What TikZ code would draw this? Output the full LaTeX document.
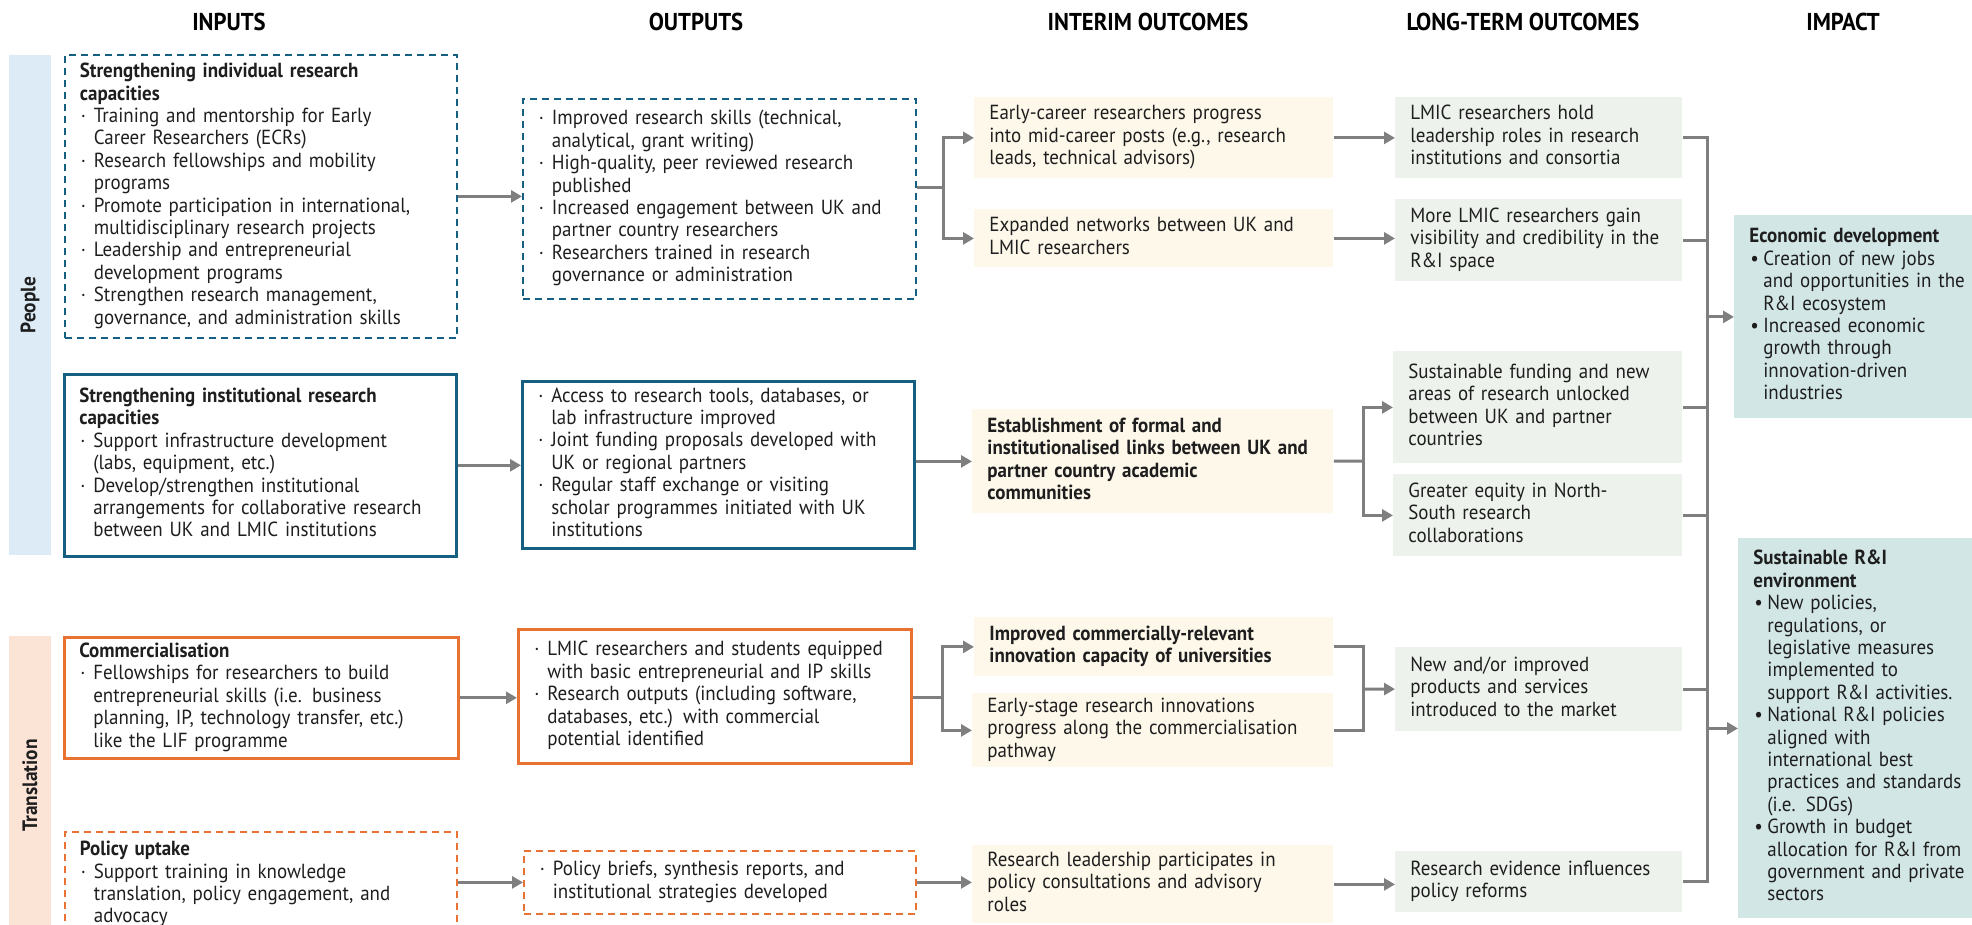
\documentclass[tikz,border=0pt]{standalone}
\usepackage{fontspec}
\setmainfont{PT Sans}[FakeStretch=0.93]
\usetikzlibrary{arrows.meta}

\definecolor{tocblue}{HTML}{156082}
\definecolor{tocorange}{HTML}{E97132}
\definecolor{peopleband}{HTML}{DDEBF7}
\definecolor{transband}{HTML}{FBE3D6}
\definecolor{interimfill}{HTML}{FEF8EB}
\definecolor{longfill}{HTML}{EDF2EC}
\definecolor{impactfill}{HTML}{D2E6E6}
\definecolor{arrowgrey}{HTML}{7F7F7F}
\definecolor{textdark}{HTML}{1E1E1E}

% lines of a box, bullets and hanging indent
\newcommand{\lns}[1]{\noindent\begin{tabular}{@{}l@{}}#1\end{tabular}}
\newcommand{\sqb}{\hspace*{0.5pt}\makebox[6.5pt][l]{·}}
\newcommand{\rdb}{\hspace*{0.5pt}\makebox[6.5pt][l]{•}}
\newcommand{\nxl}{\hspace*{7pt}}

\begin{document}
\begin{tikzpicture}[x=0.5pt,y=-0.5pt,
  base/.style={anchor=north west, align=left, inner xsep=7.5pt, inner ysep=0pt,
    text=textdark, font={\fontsize{10.2}{11.2}\selectfont}},
  strong/.style={font={\fontsize{10.2}{11.2}\selectfont\bfseries}},
  dashblue/.style={base, draw=tocblue, line width=0.9pt, dash pattern=on 3.5pt off 2.5pt},
  lineblue/.style={base, draw=tocblue, line width=1.3pt},
  lineorange/.style={base, draw=tocorange, line width=1.3pt},
  dashorange/.style={base, draw=tocorange, line width=0.9pt, dash pattern=on 3.5pt off 2.5pt},
  interim/.style={base, fill=interimfill},
  longterm/.style={base, fill=longfill},
  impact/.style={base, fill=impactfill},
  head/.style={font={\fontsize{12.2}{14}\selectfont\bfseries}, text=black},
  band/.style={rotate=90, inner sep=0pt, minimum height=21pt, text=textdark,
    font={\fontsize{10.4}{12}\selectfont\bfseries}},
  flow/.style={draw=arrowgrey, line width=1.5pt, -{Triangle[length=5.5pt,width=6pt]}},
  link/.style={draw=arrowgrey, line width=1.5pt}
]
\clip (0,0) rectangle (1972,925);

% Column headers
\node[head] (hin) at (229,22) {INPUTS};
\node[head] (hout) at (696,22) {OUTPUTS};
\node[head] (hint) at (1148,22) {INTERIM OUTCOMES};
\node[head] (hlong) at (1523,22) {LONG-TERM OUTCOMES};
\node[head] (himp) at (1843,22) {IMPACT};

% Side bands
\node[band, fill=peopleband, minimum width=250pt] (people) at (30,305) {People};
\node[band, fill=transband, minimum width=149.5pt] (transl) at (30,785.5) {Translation};

% Inputs
\node[dashblue, text width=181pt, minimum height=141.5pt] (in1) at (64,54) {\lns{%
  \textbf{Strengthening individual research}\\
  \textbf{capacities}\\
  \sqb Training and mentorship for Early\\
  \nxl Career Researchers (ECRs)\\
  \sqb Research fellowships and mobility\\
  \nxl programs\\
  \sqb Promote participation in international,\\
  \nxl multidisciplinary research projects\\
  \sqb Leadership and entrepreneurial\\
  \nxl development programs\\
  \sqb Strengthen research management,\\
  \nxl governance, and administration skills}};
\node[lineblue, text width=181pt, minimum height=91pt] (in2) at (63,373) {\lns{%
  \textbf{Strengthening institutional research}\\
  \textbf{capacities}\\
  \sqb Support infrastructure development\\
  \nxl (labs, equipment, etc.)\\
  \sqb Develop/strengthen institutional\\
  \nxl arrangements for collaborative research\\
  \nxl between UK and LMIC institutions}};
\node[lineorange, text width=182pt, minimum height=60.5pt] (in3) at (63,636) {\lns{%
  \textbf{Commercialisation}\\
  \sqb Fellowships for researchers to build\\
  \nxl entrepreneurial skills (i.e. business\\
  \nxl planning, IP, technology transfer, etc.)\\
  \nxl like the LIF programme}};
\node[dashorange, text width=181pt, minimum height=53pt] (in4) at (64,831) {\lns{%
  \textbf{Policy uptake}\\
  \sqb Support training in knowledge\\
  \nxl translation, policy engagement, and\\
  \nxl advocacy}};

% Outputs
\node[dashblue, text width=181.5pt, minimum height=100pt] (out1) at (522,98) {\lns{%
  \sqb Improved research skills (technical,\\
  \nxl analytical, grant writing)\\
  \sqb High-quality, peer reviewed research\\
  \nxl published\\
  \sqb Increased engagement between UK and\\
  \nxl partner country researchers\\
  \sqb Researchers trained in research\\
  \nxl governance or administration}};
\node[lineblue, text width=181pt, minimum height=83.5pt] (out2) at (521,380) {\lns{%
  \sqb Access to research tools, databases, or\\
  \nxl lab infrastructure improved\\
  \sqb Joint funding proposals developed with\\
  \nxl UK or regional partners\\
  \sqb Regular staff exchange or visiting\\
  \nxl scholar programmes initiated with UK\\
  \nxl institutions}};
\node[lineorange, text width=181.5pt, minimum height=67pt] (out3) at (517,628) {\lns{%
  \sqb LMIC researchers and students equipped\\
  \nxl with basic entrepreneurial and IP skills\\
  \sqb Research outputs (including software,\\
  \nxl databases, etc.) with commercial\\
  \nxl potential identified}};
\node[dashorange, text width=181pt, minimum height=31.5pt] (out4) at (523,850) {\lns{%
  \sqb Policy briefs, synthesis reports, and\\
  \nxl institutional strategies developed}};

% Interim outcomes
\node[interim, text width=164.5pt, minimum height=40.5pt] (im1) at (974,97) {\lns{%
  Early-career researchers progress\\
  into mid-career posts (e.g., research\\
  leads, technical advisors)}};
\node[interim, text width=164.5pt, minimum height=29pt] (im2) at (974,209) {\lns{%
  Expanded networks between UK and\\
  LMIC researchers}};
\node[interim, strong, text width=165.5pt, minimum height=52pt] (im3) at (972,409) {\lns{%
  Establishment of formal and\\
  institutionalised links between UK and\\
  partner country academic\\
  communities}};
\node[interim, strong, text width=164.5pt, minimum height=29.5pt] (im4) at (974,617) {\lns{%
  Improved commercially-relevant\\
  innovation capacity of universities}};
\node[interim, text width=165.5pt, minimum height=37pt] (im5) at (972,693) {\lns{%
  Early-stage research innovations\\
  progress along the commercialisation\\
  pathway}};
\node[interim, text width=165.5pt, minimum height=39pt] (im6) at (972,845) {\lns{%
  Research leadership participates in\\
  policy consultations and advisory\\
  roles}};

% Long-term outcomes
\node[longterm, text width=128.5pt, minimum height=40.5pt] (lt1) at (1395,97) {\lns{%
  LMIC researchers hold\\
  leadership roles in research\\
  institutions and consortia}};
\node[longterm, text width=128.5pt, minimum height=41pt] (lt2) at (1395,199) {\lns{%
  More LMIC researchers gain\\
  visibility and credibility in the\\
  R\&I space}};
\node[longterm, text width=129.5pt, minimum height=56pt] (lt3) at (1393,351) {\lns{%
  Sustainable funding and new\\
  areas of research unlocked\\
  between UK and partner\\
  countries}};
\node[longterm, text width=129.5pt, minimum height=41pt] (lt4) at (1393,474) {\lns{%
  Greater equity in North-\\
  South research\\
  collaborations}};
\node[longterm, text width=128.5pt, minimum height=42pt] (lt5) at (1395,647) {\lns{%
  New and/or improved\\
  products and services\\
  introduced to the market}};
\node[longterm, text width=128.5pt, minimum height=30.5pt] (lt6) at (1395,851) {\lns{%
  Research evidence influences\\
  policy reforms}};

% Impact
\node[impact, text width=108pt, minimum height=101.5pt] (ip1) at (1734,215) {\lns{%
  \textbf{Economic development}\\
  \rdb Creation of new jobs\\
  \nxl and opportunities in the\\
  \nxl R\&I ecosystem\\
  \rdb Increased economic\\
  \nxl growth through\\
  \nxl innovation-driven\\
  \nxl industries}};
\node[impact, text width=106pt, minimum height=190pt] (ip2) at (1738,538) {\lns{%
  \textbf{Sustainable R\&I}\\
  \textbf{environment}\\
  \rdb New policies,\\
  \nxl regulations, or\\
  \nxl legislative measures\\
  \nxl implemented to\\
  \nxl support R\&I activities.\\
  \rdb National R\&I policies\\
  \nxl aligned with\\
  \nxl international best\\
  \nxl practices and standards\\
  \nxl (i.e. SDGs)\\
  \rdb Growth in budget\\
  \nxl allocation for R\&I from\\
  \nxl government and private\\
  \nxl sectors}};

% Inputs to outputs
\draw[flow] (in1) -- (in1 -| out1.west);
\draw[flow] (in2) -- (in2 -| out2.west);
\draw[flow] (in3) -- (in3 -| out3.west);
\draw[flow] (out4.west -| in4.east) -- (out4);

% Outputs to interim outcomes
\coordinate (fork1) at (943,188);
\draw[link] (out1.east |- fork1) -- (fork1);
\draw[flow] (fork1) |- (im1);
\draw[flow] (fork1) |- (im2);
\draw[flow] (im3 -| out2.east) -- (im3);
\coordinate (fork3) at (942,697);
\draw[link] (out3.east |- fork3) -- (fork3);
\draw[flow] (fork3) |- (im4);
\draw[flow] (fork3) |- (im5);
\draw[flow] (out4) -- (out4 -| im6.west);

% Interim to long-term outcomes
\draw[flow] (im1) -- (im1 -| lt1.west);
\draw[flow] (im2) -- (im2 -| lt2.west);
\coordinate (fork5) at (1363,461);
\draw[link] (im3) -- (fork5);
\draw[flow] (fork5) |- (lt3);
\draw[flow] (fork5) |- (lt4);
\coordinate (merge7) at (1363,689);
\draw[link] (im4) -| (merge7);
\draw[link] (im5) -| (merge7);
\draw[flow] (merge7) -- (lt5);
\draw[flow] (im6) -- (im6 -| lt6.west);

% Long-term outcomes to impact
\coordinate (bus) at (1707,500);
\draw[link] (lt1) -| (bus |- lt6) -- (lt6);
\foreach \n in {lt2,lt3,lt4,lt5}
  \draw[link] (\n) -- (\n -| bus);
\draw[flow] (bus |- ip1) -- (ip1);
\draw[flow] (bus |- ip2) -- (ip2);
\end{tikzpicture}
\end{document}
